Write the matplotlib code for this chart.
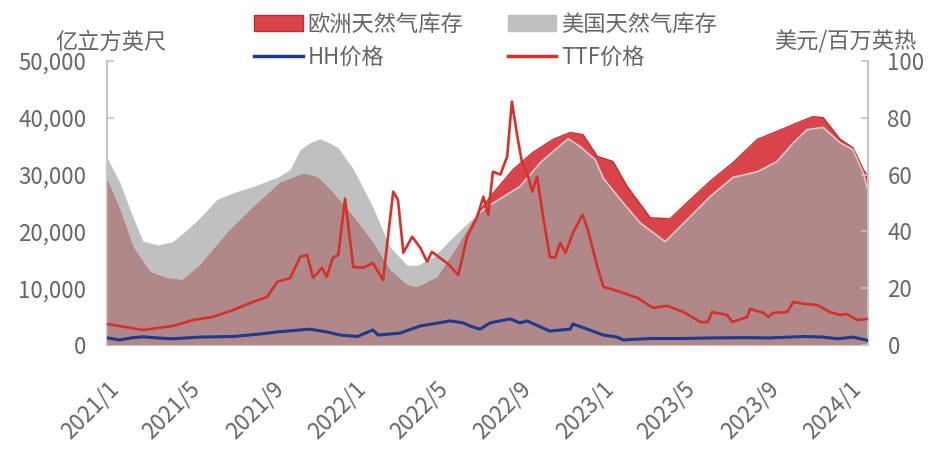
import matplotlib
matplotlib.use("Agg")
import matplotlib.pyplot as plt
import pandas as pd
from matplotlib.lines import Line2D
from matplotlib.patches import Patch
from matplotlib.ticker import FuncFormatter

plt.rcParams["font.family"] = ["Noto Sans CJK SC", "DejaVu Sans"]

# US storage, 亿立方英尺
us_dates = ["2021-01-01", "2021-01-20", "2021-02-08", "2021-02-23", "2021-03-17", "2021-04-08",
            "2021-04-29", "2021-05-18", "2021-06-12", "2021-07-06", "2021-08-04", "2021-09-09",
            "2021-09-28", "2021-10-13", "2021-10-27", "2021-11-11", "2021-11-25", "2021-12-08",
            "2021-12-30", "2022-01-28", "2022-02-22", "2022-03-19", "2022-04-03",
            "2022-04-27", "2022-05-26", "2022-06-25", "2022-07-15", "2022-09-02", "2022-10-02",
            "2022-10-27", "2022-11-12", "2022-11-30", "2022-12-22", "2023-01-03", "2023-01-28",
            "2023-02-26", "2023-04-04", "2023-05-06", "2023-06-09", "2023-07-13", "2023-08-18",
            "2023-09-16", "2023-10-10", "2023-10-30", "2023-11-23", "2023-12-18", "2024-01-06",
            "2024-01-21", "2024-01-28"]
us_storage = [33000, 28600, 22600, 18300, 17600, 18200,
              20300, 22400, 25600, 26800, 27900, 29500,
              30900, 34400, 35600, 36300, 35600, 34700,
              31000, 24300, 17300, 14100, 14000,
              15500, 19000, 22400, 24300, 27900, 32100,
              34700, 36300, 34900, 32600, 29300, 25600,
              21500, 18200, 22000, 26100, 29500, 30500,
              32300, 35600, 37900, 38300, 35600, 34400,
              30300, 27000]

# EU storage, 亿立方英尺
eu_dates = ["2021-01-01", "2021-01-20", "2021-02-08", "2021-03-05", "2021-03-30", "2021-04-22",
            "2021-05-18", "2021-06-27", "2021-08-04", "2021-09-13", "2021-10-17", "2021-11-07",
            "2021-11-30", "2021-12-30", "2022-01-28", "2022-02-22", "2022-03-19", "2022-04-03",
            "2022-05-03", "2022-06-01", "2022-06-25", "2022-07-20", "2022-08-23", "2022-09-21",
            "2022-10-21", "2022-11-15", "2022-12-04", "2022-12-25", "2023-01-17", "2023-02-07",
            "2023-03-13", "2023-04-11", "2023-05-06", "2023-06-09", "2023-07-13", "2023-08-18",
            "2023-09-16", "2023-10-20", "2023-11-08", "2023-11-23", "2023-12-18", "2024-01-06",
            "2024-01-21", "2024-01-28"]
eu_storage = [29100, 23800, 17300, 12900, 11800, 11500,
              14100, 19800, 24300, 28600, 30200, 29600,
              26800, 22600, 18000, 13200, 10600, 10200,
              12000, 17300, 22000, 26100, 30900, 33900,
              36200, 37400, 37000, 33200, 32300, 27900,
              22400, 22200, 25000, 28800, 32100, 36200,
              37600, 39300, 40200, 40000, 36200, 34700,
              30900, 29600]

# TTF price, 美元/百万英热
ttf_dates = ["2021-01-01", "2021-02-23", "2021-04-08", "2021-05-08", "2021-06-06", "2021-07-06",
             "2021-07-31", "2021-08-25", "2021-09-09", "2021-09-28", "2021-10-13", "2021-10-23",
             "2021-11-01", "2021-11-14", "2021-11-21", "2021-11-30", "2021-12-08", "2021-12-18",
             "2021-12-30", "2022-01-14", "2022-01-28", "2022-02-12", "2022-02-27", "2022-03-06",
             "2022-03-14", "2022-03-27", "2022-04-08", "2022-04-18", "2022-04-25", "2022-05-17",
             "2022-06-03", "2022-06-16", "2022-07-01", "2022-07-10", "2022-07-17", "2022-07-24",
             "2022-08-04", "2022-08-14", "2022-08-21", "2022-08-29", "2022-09-05", "2022-09-14",
             "2022-09-20", "2022-09-27", "2022-10-06", "2022-10-16", "2022-10-24", "2022-10-31",
             "2022-11-08", "2022-11-19", "2022-12-03", "2022-12-11", "2022-12-25", "2023-01-03",
             "2023-01-28", "2023-02-22", "2023-03-17", "2023-04-07", "2023-05-01", "2023-05-26",
             "2023-06-06", "2023-06-12", "2023-07-04", "2023-07-12", "2023-08-03", "2023-08-07",
             "2023-08-27", "2023-09-03", "2023-09-10", "2023-10-01", "2023-10-10", "2023-10-25",
             "2023-11-14", "2023-12-03", "2023-12-18", "2023-12-28", "2024-01-12", "2024-01-28"]
ttf_price = [7.4, 5.3, 6.7, 8.8, 9.9, 12.3,
             14.8, 16.9, 22.2, 23.6, 31.0, 31.7,
             23.6, 27.2, 24.0, 30.7, 31.7, 51.5,
             27.5, 27.2, 28.9, 22.9, 54.0, 51.1,
             32.5, 38.1, 34.2, 29.3, 32.8, 28.9,
             24.7, 38.1, 45.2, 52.2, 45.9, 61.0,
             60.0, 66.3, 85.7, 73.4, 64.2, 59.3,
             54.0, 59.3, 45.2, 31.0, 30.7, 36.0,
             32.5, 39.5, 45.9, 40.6, 27.5, 20.5,
             18.7, 16.6, 13.1, 13.8, 11.6, 8.1,
             8.1, 11.6, 10.6, 8.1, 9.9, 12.7,
             11.3, 9.9, 11.3, 11.6, 15.2, 14.5,
             14.1, 11.6, 10.6, 10.9, 8.8, 9.2]

# HH price, 美元/百万英热
hh_dates = ["2021-01-01", "2021-01-20", "2021-02-08", "2021-02-23", "2021-03-16", "2021-04-08",
            "2021-05-18", "2021-07-06", "2021-08-15", "2021-09-09", "2021-10-27", "2021-11-21",
            "2021-12-11", "2022-01-05", "2022-01-28", "2022-02-05", "2022-03-09", "2022-04-08",
            "2022-05-22", "2022-06-10", "2022-06-20", "2022-07-05", "2022-07-20", "2022-08-18",
            "2022-09-02", "2022-09-12", "2022-10-16", "2022-11-15", "2022-11-19", "2022-12-10",
            "2023-01-03", "2023-01-23", "2023-02-01", "2023-03-13", "2023-05-01", "2023-06-09",
            "2023-08-03", "2023-09-03", "2023-10-05", "2023-10-25", "2023-11-23", "2023-12-14",
            "2024-01-06", "2024-01-28"]
hh_price = [2.5, 1.8, 2.6, 2.9, 2.5, 2.2,
            2.8, 3.0, 3.9, 4.6, 5.6, 4.6,
            3.5, 3.0, 5.3, 3.5, 4.2, 6.7,
            8.5, 7.8, 6.7, 5.6, 7.8, 9.2,
            7.8, 8.5, 4.9, 5.6, 7.4, 5.6,
            3.5, 2.8, 1.8, 2.3, 2.3, 2.5,
            2.6, 2.5, 2.8, 3.0, 2.8, 2.2,
            2.8, 1.6]

RED = "#d8444a"
RED_EDGE = "#c8282c"
GRAY = "#c0c0c0"
MAUVE = "#b08889"
TTF_RED = "#d6302b"
NAVY = "#1d3a8c"
TXT = "#666666"
AXC = "#c4c4c4"

us_d = pd.to_datetime(us_dates)
eu_d = pd.to_datetime(eu_dates)
ttf_d = pd.to_datetime(ttf_dates)
hh_d = pd.to_datetime(hh_dates)

fig = plt.figure(figsize=(9.4, 4.65), dpi=100)
ax = fig.add_axes([0.1138, 0.258, 0.8096, 0.611])
ax2 = ax.twinx()

us_poly = ax.fill_between(us_d, 0, us_storage, color=GRAY, lw=0, zorder=1)
eu_poly = ax.fill_between(eu_d, 0, eu_storage, color=RED, lw=0, zorder=2)
overlap = ax.fill_between(eu_d, 0, eu_storage, color=MAUVE, lw=0, zorder=3)
overlap.set_clip_path(us_poly.get_paths()[0], ax.transData)

# edges: red outline only above the US area, light outline of US only inside EU area
above_us = ax.fill_between(us_d, us_storage, 80000, color="none", lw=0)
above_path = above_us.get_paths()[0]
above_us.remove()
eu_line, = ax.plot(eu_d, eu_storage, color=RED_EDGE, lw=1.0, zorder=4)
eu_line.set_clip_path(above_path, ax.transData)
us_line, = ax.plot(us_d, us_storage, color="#dcc8c8", lw=1.2, zorder=4)
us_line.set_clip_path(eu_poly.get_paths()[0], ax.transData)

ax2.plot(hh_d, hh_price, color=NAVY, lw=2.2, zorder=5)
ax2.plot(ttf_d, ttf_price, color=TTF_RED, lw=1.9, zorder=6)

ax.set_xlim(pd.Timestamp("2021-01-01"), pd.Timestamp("2024-01-28"))
ax.set_ylim(0, 50000)
ax2.set_ylim(0, 100)
ax.set_yticks(range(0, 50001, 10000))
ax2.set_yticks(range(0, 101, 20))
ax.yaxis.set_major_formatter(FuncFormatter(lambda v, p: f"{int(v):,}"))

xt = pd.date_range("2021-01-01", "2024-01-01", freq="4MS")
ax.set_xticks(xt)
ax.set_xticklabels([f"{d.year}/{d.month}" for d in xt])
plt.setp(ax.get_xticklabels(), rotation=45, ha="right", rotation_mode="anchor")

for a in (ax, ax2):
    a.spines["top"].set_visible(False)
    for s in ("left", "right", "bottom"):
        a.spines[s].set_color(AXC)
        a.spines[s].set_linewidth(1.5)
ax.spines["right"].set_visible(False)
ax2.spines["left"].set_visible(False)
ax2.spines["bottom"].set_visible(False)

ax.tick_params(axis="y", direction="in", length=5, width=1.2, color=AXC,
               labelsize=16, labelcolor=TXT, pad=15)
ax2.tick_params(axis="y", direction="in", length=5, width=1.2, color=AXC,
                labelsize=16, labelcolor=TXT, pad=14)
ax.tick_params(axis="x", direction="in", length=6, width=1.5, color="#e4e4e4",
               labelsize=16, labelcolor=TXT, pad=23)

fig.text(55 / 940, 1 - 42 / 465, "亿立方英尺", ha="left", va="center", fontsize=16, color=TXT)
fig.text(916 / 940, 1 - 42 / 465, "美元/百万英热", ha="right", va="center", fontsize=16, color=TXT)

handles = [Patch(facecolor=RED, edgecolor=RED_EDGE), Line2D([], [], color=NAVY, lw=2.5),
           Patch(facecolor=GRAY, edgecolor=GRAY), Line2D([], [], color=TTF_RED, lw=2.5)]
labels = ["欧洲天然气库存", "HH价格", "美国天然气库存", "TTF价格"]
leg = fig.legend(handles, labels, ncol=2, loc="upper left", bbox_to_anchor=(234 / 940, 1.015),
                 frameon=False, fontsize=16, handlelength=2.2, handleheight=0.7,
                 handletextpad=0.2, columnspacing=2.0, labelspacing=0.45)
for t in leg.get_texts():
    t.set_color(TXT)

fig.savefig("out.png", dpi=100)
